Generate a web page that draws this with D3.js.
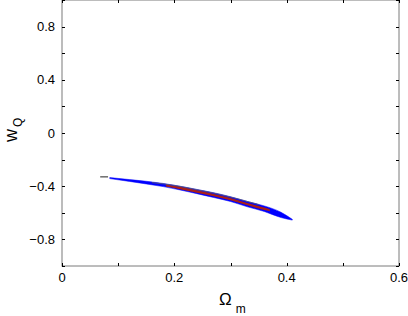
<!DOCTYPE html>
<html>
<head>
<meta charset="utf-8">
<script src="https://cdn.jsdelivr.net/npm/d3@7"></script>
<style>
  body { margin: 0; background: #fff; }
  text { font-family: "Liberation Sans", Arial, sans-serif; fill: #000; }
</style>
</head>
<body>
<svg id="chart" width="408" height="316"></svg>
<script>
// data
var blueOm = [0.085, 0.12, 0.15, 0.18, 0.21, 0.24, 0.27, 0.30, 0.33, 0.36, 0.39, 0.41];
var blueHi = [-0.335, -0.350, -0.363, -0.379, -0.400, -0.424, -0.449, -0.479, -0.515, -0.548, -0.596, -0.649];
var blueLo = [-0.343, -0.364, -0.383, -0.403, -0.428, -0.456, -0.485, -0.515, -0.555, -0.590, -0.636, -0.655];

var redOm = [0.185, 0.21, 0.24, 0.27, 0.30, 0.33, 0.36, 0.37];
var redHi = [-0.387, -0.405, -0.431, -0.458, -0.488, -0.526, -0.561, -0.574];
var redLo = [-0.403, -0.423, -0.449, -0.476, -0.506, -0.544, -0.579, -0.588];

var grayOm = [0.16, 0.20, 0.24, 0.28, 0.32, 0.35];
var grayW = [-0.373, -0.394, -0.426, -0.461, -0.503, -0.538];

var dashOm = [0.068, 0.082];
var dashW = [-0.330, -0.330];

var xTicks = [0, 0.2, 0.4, 0.6];
var yTicks = [-0.8, -0.4, 0, 0.4, 0.8];

var svg = d3.select("#chart");

var x = d3.scaleLinear().domain([0, 0.6]).range([62, 399]);
var y = d3.scaleLinear().domain([-1, 1]).range([266, 0]);

// frame
svg.append("rect")
    .attr("x", x(0)).attr("y", y(1))
    .attr("width", x(0.6) - x(0)).attr("height", y(-1) - y(1))
    .attr("fill", "none").attr("stroke", "#7a7a7a").attr("stroke-width", 1);

// ticks, pointing inward on all four sides
var xMinor = d3.range(0, 0.61, 0.1);
var yMinor = d3.range(-1, 1.01, 0.2);
var tl = 3;
svg.append("g").selectAll("line").data(xMinor).enter().append("line")
    .attr("x1", function(d) { return Math.round(x(d)) + 0.5; })
    .attr("x2", function(d) { return Math.round(x(d)) + 0.5; })
    .attr("y1", y(-1)).attr("y2", y(-1) - tl)
    .attr("stroke", "#000");
svg.append("g").selectAll("line").data(xMinor).enter().append("line")
    .attr("x1", function(d) { return Math.round(x(d)) + 0.5; })
    .attr("x2", function(d) { return Math.round(x(d)) + 0.5; })
    .attr("y1", y(1)).attr("y2", y(1) + tl)
    .attr("stroke", "#000");
svg.append("g").selectAll("line").data(yMinor).enter().append("line")
    .attr("y1", function(d) { return Math.round(y(d)) + 0.5; })
    .attr("y2", function(d) { return Math.round(y(d)) + 0.5; })
    .attr("x1", x(0)).attr("x2", x(0) + tl)
    .attr("stroke", "#000");
svg.append("g").selectAll("line").data(yMinor).enter().append("line")
    .attr("y1", function(d) { return Math.round(y(d)) + 0.5; })
    .attr("y2", function(d) { return Math.round(y(d)) + 0.5; })
    .attr("x1", x(0.6)).attr("x2", x(0.6) - tl)
    .attr("stroke", "#000");

// tick labels
svg.append("g").selectAll("text").data(xTicks).enter().append("text")
    .attr("x", function(d) { return x(d); })
    .attr("y", 282)
    .attr("text-anchor", "middle")
    .attr("font-size", 13)
    .text(function(d) { return d3.format("")(d); });
svg.append("g").selectAll("text").data(yTicks).enter().append("text")
    .attr("x", 55)
    .attr("y", function(d) { return y(d) + 4.5; })
    .attr("text-anchor", "end")
    .attr("font-size", 13)
    .text(function(d) { return d3.format("")(d); });

// bands
var blueData = blueOm.map(function(d, i) { return {o: d, hi: blueHi[i], lo: blueLo[i]}; });
var redData = redOm.map(function(d, i) { return {o: d, hi: redHi[i], lo: redLo[i]}; });

var area = d3.area()
    .x(function(d) { return x(d.o); })
    .y0(function(d) { return y(d.lo); })
    .y1(function(d) { return y(d.hi); })
    .curve(d3.curveMonotoneX);

svg.append("path").datum(blueData)
    .attr("d", area)
    .attr("fill", "#0000ff")
    .attr("stroke", "#0000ff").attr("stroke-width", 0.5);

svg.append("path").datum(redData)
    .attr("d", area)
    .attr("fill", "#a8201a");

var grayLine = d3.line()
    .x(function(d) { return x(d); })
    .y(function(d, i) { return y(grayW[i]); })
    .curve(d3.curveMonotoneX);
svg.append("path").datum(grayOm)
    .attr("d", grayLine)
    .attr("fill", "none").attr("stroke", "#5a5a6a").attr("stroke-width", 1)
    .attr("stroke-opacity", 0.8);

var dashLine = d3.line()
    .x(function(d) { return x(d); })
    .y(function(d, i) { return y(dashW[i]); });
svg.append("path").datum(dashOm)
    .attr("d", dashLine)
    .attr("fill", "none").attr("stroke", "#222").attr("stroke-width", 1);

// axis titles
var xl = svg.append("text")
    .attr("x", 219).attr("y", 305)
    .attr("font-size", 17);
xl.append("tspan").text("\u03A9");
xl.append("tspan").attr("font-size", 12).attr("dx", 4).attr("dy", 8).text("m");

var yl = svg.append("text")
    .attr("transform", "translate(17,142) rotate(-90)")
    .attr("font-size", 18);
yl.append("tspan").text("w");
yl.append("tspan").attr("font-size", 12).attr("dx", 2).attr("dy", 5).text("Q");
</script>
</body>
</html>
